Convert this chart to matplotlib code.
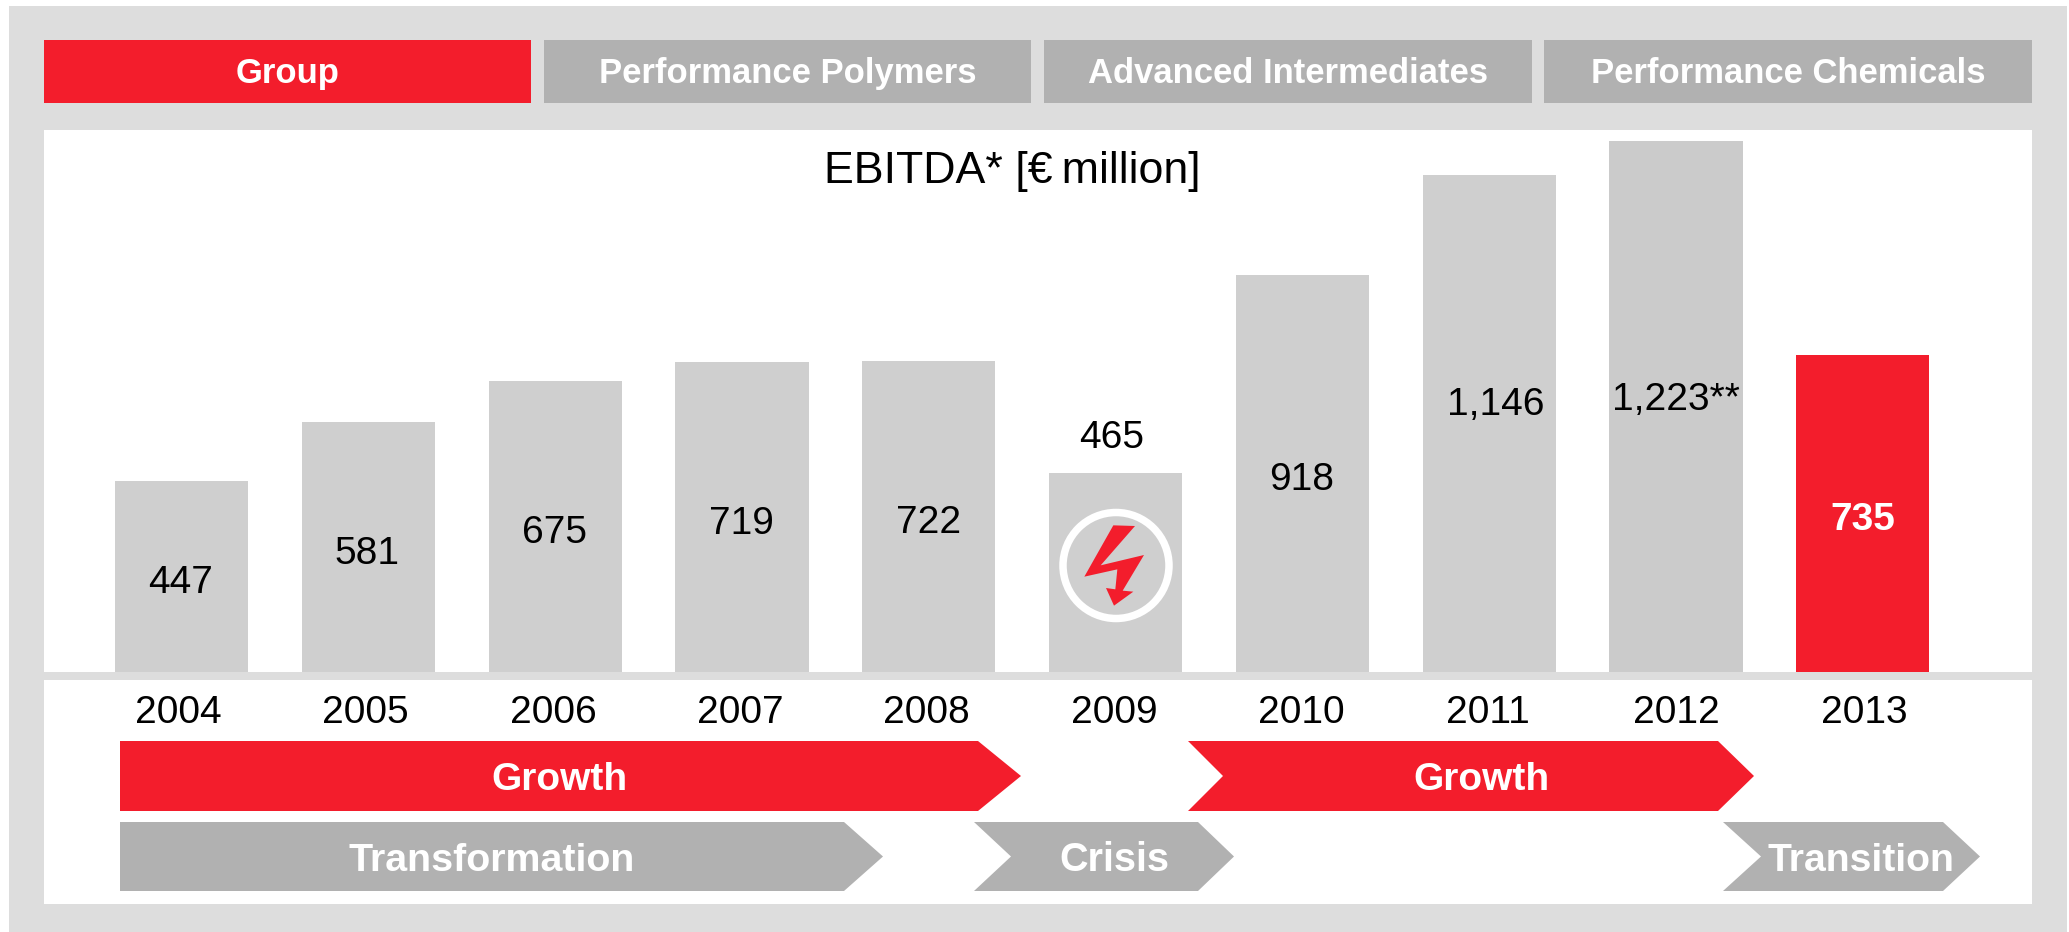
import matplotlib
matplotlib.use("Agg")
import matplotlib.pyplot as plt
from matplotlib.patches import Rectangle, Polygon, Circle

plt.rcParams['font.family'] = ['Liberation Sans', 'DejaVu Sans']

# data
years = [2004, 2005, 2006, 2007, 2008, 2009, 2010, 2011, 2012, 2013]
ebitda = [447, 581, 675, 719, 722, 465, 918, 1146, 1223, 735]
value_labels = ['447', '581', '675', '719', '722', '465', '918', '1,146', '1,223**', '735']
tabs = ['Group', 'Performance Polymers', 'Advanced Intermediates', 'Performance Chemicals']
title = 'EBITDA* [€\u2009million]'

# layout, all in pixels of the 2069x932 picture
W, H = 2069, 932
label_x = [181, 367, 554, 741, 929, 1112, 1302, 1496, 1676, 1863]
label_base = [593, 564, 543, 534, 533, 448, 490, 415, 410, 530]
year_x = [178, 365, 553, 740, 926, 1114, 1301, 1488, 1676, 1864]
tab_x = [(44, 531), (544, 1031), (1044, 1532), (1544, 2032)]

RED = '#F31D2C'
TAB_GREY = '#B1B1B1'
BG = '#DDDDDD'
BAR = '#CFCFCF'
BAR_DARK = '#CBCBCB'

fig = plt.figure(figsize=(W / 100, H / 100), dpi=100, facecolor='white')

# background panels
bg = fig.add_axes([0, 0, 1, 1])
bg.set_xlim(0, W)
bg.set_ylim(H, 0)
bg.axis('off')
bg.add_patch(Rectangle((9, 6), 2058, 926, fc=BG, ec='none'))
bg.add_patch(Rectangle((44, 130), 1988, 542, fc='white', ec='none'))
bg.add_patch(Rectangle((44, 680), 1988, 224, fc='white', ec='none'))

# bars in data units, the original axis does not start quite at zero
x0, step = 181.6, 186.8
px_per_unit = 0.438
y_floor = 11
ax = fig.add_axes([44 / W, (H - 672) / H, 1988 / W, 542 / H])
ax.patch.set_alpha(0)
ax.set_xlim(2004 + (44 - x0) / step, 2004 + (2032 - x0) / step)
ax.set_ylim(y_floor, y_floor + 542 / px_per_unit)
ax.axis('off')
colors = [BAR] * 8 + [BAR_DARK, RED]
ax.bar(years, ebitda, width=0.714, color=colors)

# everything on top of the bars
top = fig.add_axes([0, 0, 1, 1])
top.patch.set_alpha(0)
top.set_xlim(0, W)
top.set_ylim(H, 0)
top.axis('off')

for i, name in enumerate(tabs):
    a, b = tab_x[i]
    top.add_patch(Rectangle((a, 40), b - a, 63, fc=RED if i == 0 else TAB_GREY, ec='none'))
    top.text((a + b) / 2, 83, name, color='white', fontsize=24.9, fontweight='bold',
             ha='center', va='baseline')

top.text(1012, 183, title, fontsize=32.2, ha='center', va='baseline', color='black')

for i in range(len(years)):
    is_last = i == len(years) - 1
    top.text(label_x[i], label_base[i], value_labels[i], fontsize=28,
             fontweight='bold' if is_last else 'normal',
             color='white' if is_last else 'black', ha='center', va='baseline')
    top.text(year_x[i], 723, str(years[i]), fontsize=28, ha='center', va='baseline')


def arrow(left, notch, shoulder, tip, y0, y1, color):
    ym = (y0 + y1) / 2
    pts = [(left, y0), (shoulder, y0), (tip, ym), (shoulder, y1), (left, y1)]
    if notch is not None:
        pts.append((notch, ym))
    top.add_patch(Polygon(pts, closed=True, fc=color, ec='none'))


arrow(120, None, 978, 1021, 741, 811, RED)
arrow(1188, 1223, 1718, 1754, 741, 811, RED)
arrow(120, None, 844, 883, 822, 891, TAB_GREY)
arrow(974, 1011, 1198, 1234, 822, 891, TAB_GREY)
arrow(1723, 1761, 1943, 1980, 822, 891, TAB_GREY)

for tx, ty, s, fs in [(559, 790, 'Growth', 28), (1481, 790, 'Growth', 28),
                      (491.5, 871, 'Transformation', 28.4), (1114, 871, 'Crisis', 28.5),
                      (1861, 871, 'Transition', 28.2)]:
    top.text(tx, ty, s, color='white', fontsize=fs, fontweight='bold', ha='center', va='baseline')

# crisis symbol on the 2009 bar
top.add_patch(Circle((1116, 565.5), 53, fc='none', ec='white', lw=5.4))
bolt = [(340, 316), (405, 318), (302, 436), (432, 405), (368, 512), (400, 515),
        (342, 557), (318, 504), (346, 508), (352, 448), (253, 470)]
top.add_patch(Polygon([(1000 + bx / 3, 420 + by / 3) for bx, by in bolt],
                      closed=True, fc=RED, ec='none'))

fig.savefig('out.png', dpi=100)
